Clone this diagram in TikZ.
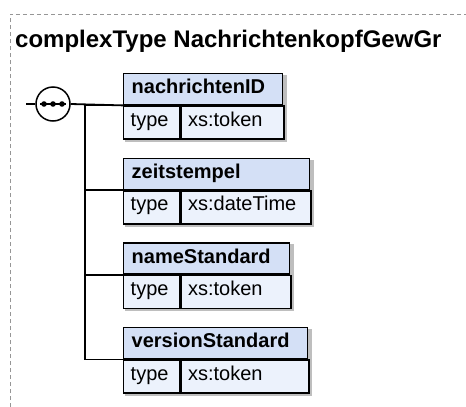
\documentclass[tikz,border=0pt]{standalone}
\usepackage{fontspec}
\setmainfont{Liberation Sans}
\usetikzlibrary{positioning}
\pgfdeclarelayer{background}
\pgfsetlayers{background,main}
\definecolor{hdrblue}{RGB}{212,224,246}
\definecolor{rowblue}{RGB}{236,242,252}
\definecolor{framegray}{RGB}{150,150,150}
\definecolor{shadowgray}{RGB}{190,190,190}
\tikzstyle{elemhead}=[draw=black,fill=hdrblue,line width=1.4pt,anchor=north west,minimum height=31pt,inner xsep=8pt,inner ysep=0pt,align=left,text height=15pt,text depth=6pt,font=\bfseries\fontsize{20}{24}\selectfont]
\tikzstyle{elemrow}=[draw=black,fill=rowblue,line width=1.4pt,anchor=north west,minimum height=33pt,inner xsep=7pt,inner ysep=0pt,align=left,text height=15pt,text depth=8pt,font=\fontsize{20}{24}\selectfont]
\tikzstyle{seqcircle}=[circle,draw=black,fill=white,line width=1.5pt,minimum size=34pt,inner sep=0pt]
\tikzstyle{edge} = [draw,line width=1.8pt,-]

\begin{document}
\begin{tikzpicture}[x=1pt,y=-1pt]
    \useasboundingbox (0,0) rectangle (466,407);
    % dashed frame of the type
    \draw[framegray,dash pattern=on 4pt off 3pt] (10,407) -- (10,14) -- (466,14);
    \node[anchor=base west,inner sep=0pt,font=\bfseries\fontsize{24}{28}\selectfont] (title) at (15,47) {complexType NachrichtenkopfGewGr};
    % sequence compositor
    \coordinate (start) at (26,104);
    \coordinate (fork) at (85,104);
    \node[seqcircle] (seq) at (53,104) {};
    \draw[line width=1.8pt] ([xshift=-13pt]seq.center) -- ([xshift=13pt]seq.center);
    \foreach \dx in {-9,0,9}
        \fill ([xshift=\dx pt]seq.center) circle (2.8);
    \path[edge] (start) -- (seq.west);
    % the elements
    \foreach \name/\top/\w/\typ in {nachrichtenID/73/159/xs:token, zeitstempel/157.7/186/xs:dateTime, nameStandard/242.3/166/xs:token, versionStandard/327/184/xs:token} {
        \pgfmathsetmacro\tw{\w-16}
        \pgfmathsetmacro\vw{\w-56-14}
        \node[elemhead,text width=\tw pt] (\name) at (123,\top) {\name};
        \node[elemrow,text width=42pt] (\name-type) at (\name.south west) {type};
        \node[elemrow,text width=\vw pt] (\name-val) at (\name-type.north east) {\typ};
        \begin{pgfonlayer}{background}
            \fill[shadowgray] ([shift={(2,2)}]\name.north west) rectangle ([shift={(2,2)}]\name-val.south east);
        \end{pgfonlayer}
        \path[edge] (fork) |- (\name.south west);
    }
    \path[edge] (seq.east) -- (nachrichtenID.south west);
\end{tikzpicture}
\end{document}
